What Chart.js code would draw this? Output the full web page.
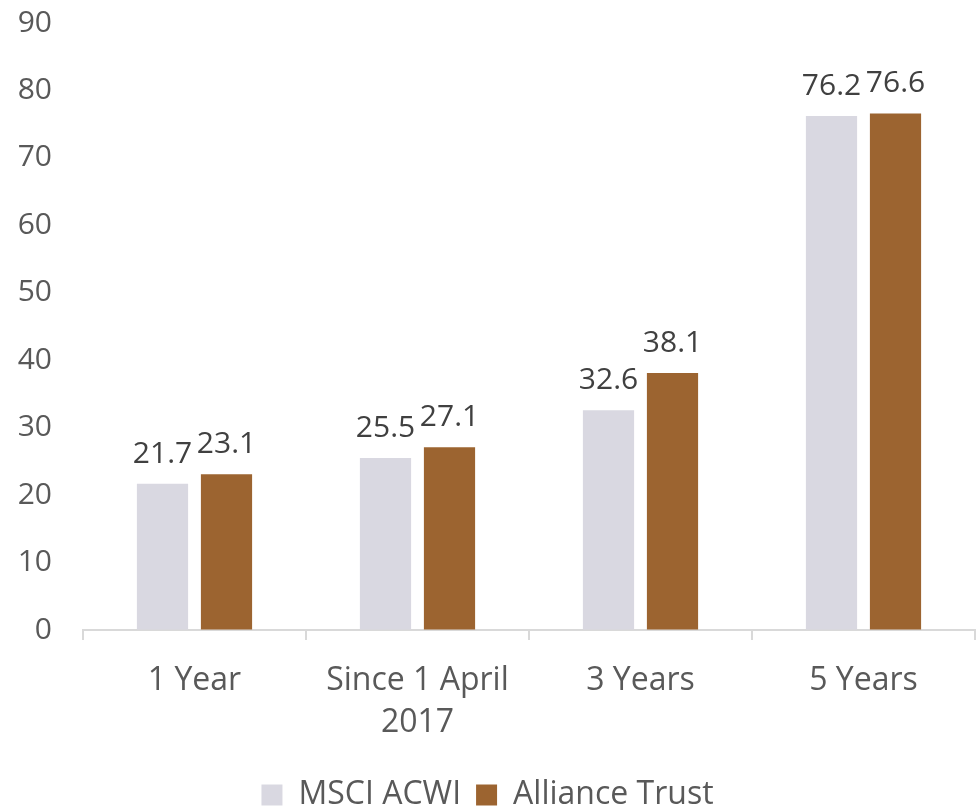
<!DOCTYPE html>
<html><head><meta charset="utf-8">
<script src="https://cdn.jsdelivr.net/npm/chart.js@4"></script>
<style>html,body{margin:0;padding:0;background:#fff}</style>
</head><body>
<canvas id="c" width="977" height="807"></canvas>
<script>
const categories = [["1 Year"], ["Since 1 April", "2017"], ["3 Years"], ["5 Years"]];
const msciValues = [21.7, 25.5, 32.6, 76.2];
const allianceValues = [23.1, 27.1, 38.1, 76.6];
const seriesNames = ["MSCI ACWI", "Alliance Trust"];
const yTicks = [0, 10, 20, 30, 40, 50, 60, 70, 80, 90];

const FONT = "'Open Sans', sans-serif";

const dataLabels = {
  id: 'dataLabels',
  afterDatasetsDraw(chart) {
    const ctx = chart.ctx;
    ctx.save();
    ctx.font = "30px " + FONT;
    ctx.fillStyle = "#404040";
    ctx.textAlign = "center";
    ctx.textBaseline = "alphabetic";
    chart.data.datasets.forEach((ds, i) => {
      chart.getDatasetMeta(i).data.forEach((bar, j) => {
        ctx.fillText(ds.data[j].toFixed(1), bar.x, bar.y - 21);
      });
    });
    ctx.restore();
  }
};

new Chart(document.getElementById('c'), {
  type: 'bar',
  data: {
    labels: categories,
    datasets: [
      { label: seriesNames[0], data: msciValues, backgroundColor: '#D9D8E1' },
      { label: seriesNames[1], data: allianceValues, backgroundColor: '#9C6430' }
    ]
  },
  options: {
    responsive: false,
    animation: false,
    devicePixelRatio: 1,
    layout: { padding: { left: 0, right: 2, top: -5, bottom: -14 } },
    datasets: { bar: { categoryPercentage: 0.574, barPercentage: 0.8 } },
    plugins: {
      legend: {
        position: 'bottom',
        labels: {
          font: { family: FONT, size: 32 },
          color: '#595959',
          boxWidth: 21, boxHeight: 21,
          padding: 15
        }
      },
      tooltip: { enabled: false }
    },
    scales: {
      x: {
        grid: { display: true, drawOnChartArea: false, color: '#D9D9D9', tickLength: 10, lineWidth: 2 },
        border: { display: true, color: '#D9D9D9', width: 2 },
        ticks: { font: { family: FONT, size: 32, lineHeight: 1.3125 }, color: '#595959', padding: 20, maxRotation: 0 }
      },
      y: {
        min: 0, max: 90,
        afterBuildTicks(axis) { axis.ticks = yTicks.map(v => ({ value: v })); },
        afterFit(axis) { axis.width = 83; },
        grid: { display: true, drawOnChartArea: false, drawTicks: true, tickLength: 26, color: 'rgba(0,0,0,0)' },
        border: { display: false },
        ticks: { font: { family: FONT, size: 30 }, color: '#595959', padding: 5 }
      }
    }
  },
  plugins: [dataLabels]
});
</script>
</body></html>
